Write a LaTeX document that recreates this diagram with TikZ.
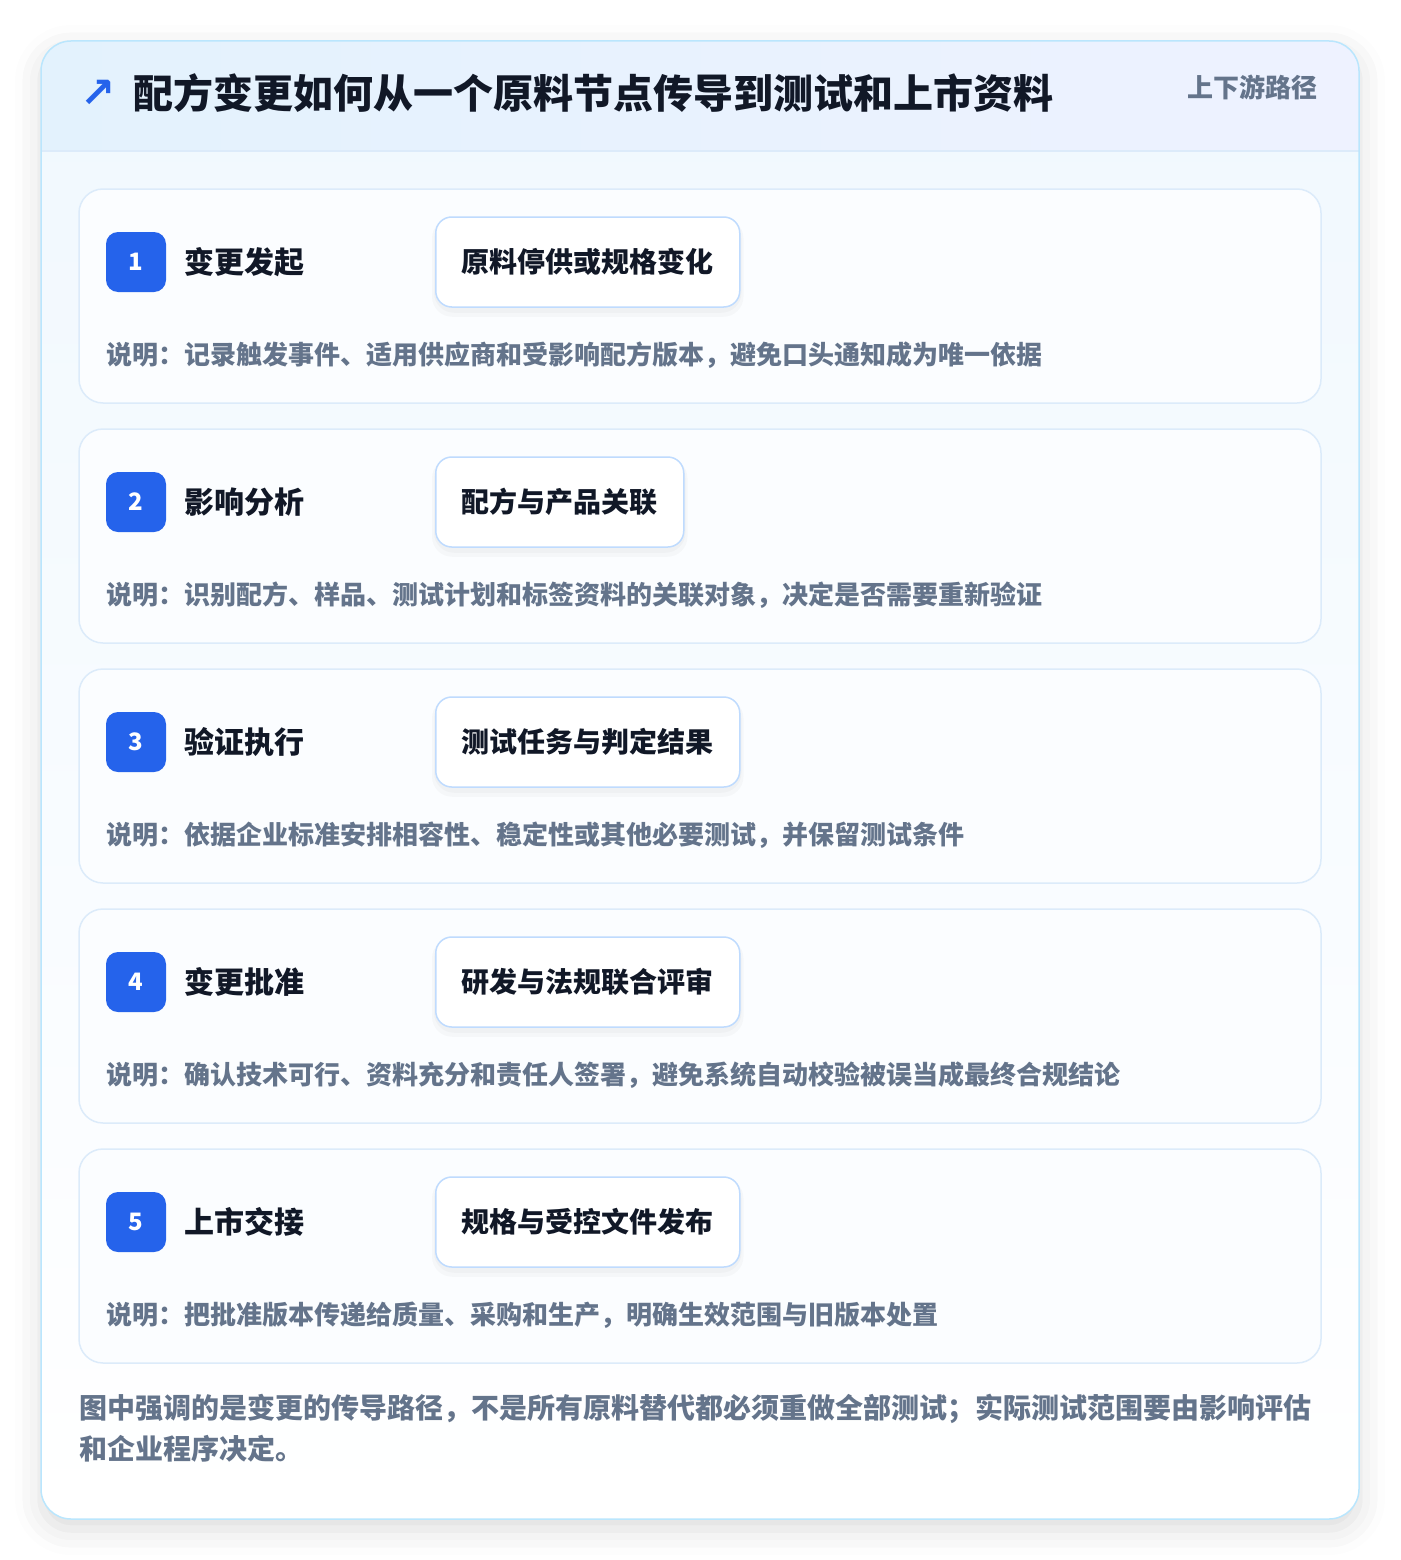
\documentclass[tikz,border=0pt]{standalone}
\usepackage{fontspec}
\setmainfont{Noto Sans CJK SC}
\newfontfamily\symfont{DejaVu Sans}
\usepackage{tikz}
\usetikzlibrary{positioning, shadows.blur}
\definecolor{accent}{HTML}{2563EB}
\definecolor{ink}{HTML}{111827}
\definecolor{muted}{HTML}{64748B}
\definecolor{panelline}{HTML}{BAE6FD}
\definecolor{cardline}{HTML}{DCEBFA}
\definecolor{tagline}{HTML}{BFDBFE}
\definecolor{cardfill}{HTML}{FBFDFF}
\definecolor{headleft}{HTML}{E3F2FD}
\definecolor{headright}{HTML}{EEF2FF}

\begin{document}
\begin{tikzpicture}
    [x=1pt, y=-1pt,
      panel/.style={rounded corners=30pt},
      card/.style={draw=cardline, line width=1.5pt, fill=cardfill, rounded corners=24pt},
      badge/.style={fill=accent, rounded corners=12pt, minimum size=60pt, inner sep=0pt,
        text=white, font=\bfseries\fontsize{24}{24}\selectfont},
      steplabel/.style={text=ink, inner sep=0pt, font=\bfseries\fontsize{30}{30}\selectfont},
      tag/.style={draw=tagline, line width=1.5pt, fill=white, rounded corners=16pt,
        minimum height=90pt, inner xsep=26pt, text=ink,
        font=\bfseries\fontsize{28}{28}\selectfont},
      tagshade/.style={fill=black, opacity=0.025, rounded corners=20pt},
      note/.style={text=muted, inner sep=0pt, font=\bfseries\fontsize{26}{26}\selectfont}]

    \useasboundingbox (0,0) rectangle (1400,1560);

    % outer panel
    \path[panel, fill=white, blur shadow={shadow xshift=0pt, shadow yshift=-10pt,
      shadow blur radius=26pt, shadow opacity=14}] (41,41) rectangle (1359,1519);
    \begin{scope}
      \clip[panel] (41,41) rectangle (1359,1519);
      \shade[top color=cardfill!60!headleft, bottom color=white] (41,151) rectangle (1359,1519);
      \shade[left color=headleft, right color=headright] (41,41) rectangle (1359,151);
      \draw[cardline, line width=1.5pt] (41,151) -- (1359,151);
    \end{scope}
    \draw[panel, panelline, line width=1.5pt] (41,41) rectangle (1359,1519);

    % header
    \node[text=accent, inner sep=0pt, font=\symfont\bfseries\fontsize{42}{42}\selectfont]
      (icon) at (98,94) {↗};
    \node[anchor=west, text=ink, inner sep=0pt, font=\bfseries\fontsize{40}{40}\selectfont]
      (title) at (133,93) {配方变更如何从一个原料节点传导到测试和上市资料};
    \node[anchor=east, text=muted, inner sep=0pt, font=\bfseries\fontsize{26}{26}\selectfont]
      (path) at (1318,87) {上下游路径};

    % steps
    \foreach \i/\lbl/\tagtext/\desc in {
      1/变更发起/原料停供或规格变化/说明：记录触发事件、适用供应商和受影响配方版本，避免口头通知成为唯一依据,
      2/影响分析/配方与产品关联/说明：识别配方、样品、测试计划和标签资料的关联对象，决定是否需要重新验证,
      3/验证执行/测试任务与判定结果/说明：依据企业标准安排相容性、稳定性或其他必要测试，并保留测试条件,
      4/变更批准/研发与法规联合评审/说明：确认技术可行、资料充分和责任人签署，避免系统自动校验被误当成最终合规结论,
      5/上市交接/规格与受控文件发布/说明：把批准版本传递给质量、采购和生产，明确生效范围与旧版本处置}
    {
      \pgfmathsetmacro\top{189+240*(\i-1)}
      \path[card] (79,\top) rectangle (1321,\top+214);
      \node[badge] (badge\i) at (136,\top+73) {\i};
      \node[steplabel, right=18pt of badge\i] (lbl\i) {\lbl};
      \node[tag, anchor=west, opacity=0] (ghost\i) at (435,\top+73) {\tagtext};
      \path[tagshade] ([xshift=-3pt, yshift=-2pt]ghost\i.north west) rectangle ([xshift=3pt, yshift=-9pt]ghost\i.south east);
      \path[tagshade] ([xshift=-1pt, yshift=-2pt]ghost\i.north west) rectangle ([xshift=1pt, yshift=-5pt]ghost\i.south east);
      \node[tag, anchor=west] (tag\i) at (435,\top+73) {\tagtext};
      \node[note, anchor=west] (desc\i) at (106,\top+166) {\desc};
    }

    % footnote
    \node[anchor=north west, align=left, text=muted, inner sep=0pt,
      font=\bfseries\fontsize{28}{41}\selectfont] (foot) at (79,1394)
      {图中强调的是变更的传导路径，不是所有原料替代都必须重做全部测试；实际测试范围要由影响评估\\和企业程序决定。};
  \end{tikzpicture}
\end{document}
